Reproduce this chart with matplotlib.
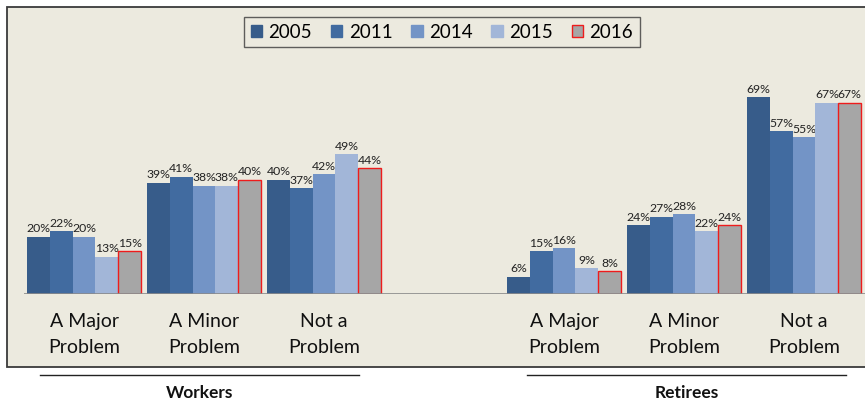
import numpy as np
import matplotlib.pyplot as plt
from matplotlib.patches import Rectangle, Patch
from matplotlib.lines import Line2D
import matplotlib.transforms as mtransforms

plt.rcParams['font.family'] = ['Lato', 'DejaVu Sans']

years = ['2005', '2011', '2014', '2015', '2016']
categories = ['A Major\nProblem', 'A Minor\nProblem', 'Not a\nProblem']
groups = ['Workers', 'Retirees']

workers = {
    '2005': [20, 39, 40],
    '2011': [22, 41, 37],
    '2014': [20, 38, 42],
    '2015': [13, 38, 49],
    '2016': [15, 40, 44],
}
retirees = {
    '2005': [6, 24, 69],
    '2011': [15, 27, 57],
    '2014': [16, 28, 55],
    '2015': [9, 22, 67],
    '2016': [8, 24, 67],
}

colors = ['#375c8a', '#416ba0', '#7394c6', '#a2b6d8', '#a6a6a6']
edges = ['none', 'none', 'none', 'none', '#ee1c1c']
beige = '#eceadf'

fig = plt.figure(figsize=(8.65, 4.02), dpi=100)
fig.patch.set_facecolor('white')

# beige chart area with frame (right side runs off the image)
bg = Rectangle((7 / 865, 34 / 402), 1.1, 360 / 402, transform=fig.transFigure,
               facecolor=beige, edgecolor='#3a3a3a', lw=1.3, zorder=-5)
fig.patches.append(bg)

ax = fig.add_axes([24 / 865, 107 / 402, 841 / 865, 240 / 402])
ax.set_facecolor('none')
ax.set_zorder(1)

# slots 0-2 workers, slot 3 empty, slots 4-6 retirees
slots = [np.arange(3), np.arange(3) + 4]
w = 0.19
for gi, data in enumerate([workers, retirees]):
    for i, yr in enumerate(years):
        xs = slots[gi] + (i - 2) * w
        bars = ax.bar(xs, data[yr], width=w, color=colors[i],
                      edgecolor=edges[i], linewidth=1.0 if i == 4 else 0, zorder=3)
        for b, v in zip(bars, data[yr]):
            ax.annotate(f'{v}%', (b.get_x() + b.get_width() / 2, v),
                        xytext=(0, 2.5), textcoords='offset points',
                        ha='center', va='bottom', fontsize=8.8, color='#222222')

ax.set_xlim(-0.5, 6.508)
ax.set_ylim(0, 240 / 2.855)
ax.axhline(0, color='#8a8a8a', lw=1.2, zorder=4)
for s in ax.spines.values():
    s.set_visible(False)
ax.set_yticks([])
ax.set_xticks(list(slots[0]) + list(slots[1]))
ax.set_xticklabels(categories * 2, fontsize=14, linespacing=1.65, color='#111111')
ax.tick_params(axis='x', length=0, pad=13)

# group labels with rules above them
tr = mtransforms.blended_transform_factory(ax.transData, fig.transFigure)
spans = [(-0.37, 0.29), (-0.31, 0.35)]
for gi, name in enumerate(groups):
    left = slots[gi][0] + spans[gi][0]
    right = slots[gi][-1] + spans[gi][1]
    fig.add_artist(Line2D([left, right], [26 / 402, 26 / 402], transform=tr,
                          color='#222222', lw=1.0))
    fig.text((left + right) / 2, 9 / 402, name, transform=tr, ha='center',
             va='center', fontsize=12.5, fontweight='bold', color='#111111')

handles = [Patch(facecolor=c, edgecolor=e if e != 'none' else c, lw=1.0)
           for c, e in zip(colors, edges)]
leg = fig.legend(handles, years, loc='center', bbox_to_anchor=(442 / 865, 369 / 402),
                 ncol=5, fontsize=13.5, frameon=True, fancybox=False,
                 handlelength=0.6, handleheight=0.6, handletextpad=0.35,
                 columnspacing=1.0, borderpad=0.35)
leg.get_frame().set_facecolor('none')
leg.get_frame().set_edgecolor('#3a3a3a')
leg.get_frame().set_linewidth(1.0)

fig.savefig('out.png', dpi=100)
